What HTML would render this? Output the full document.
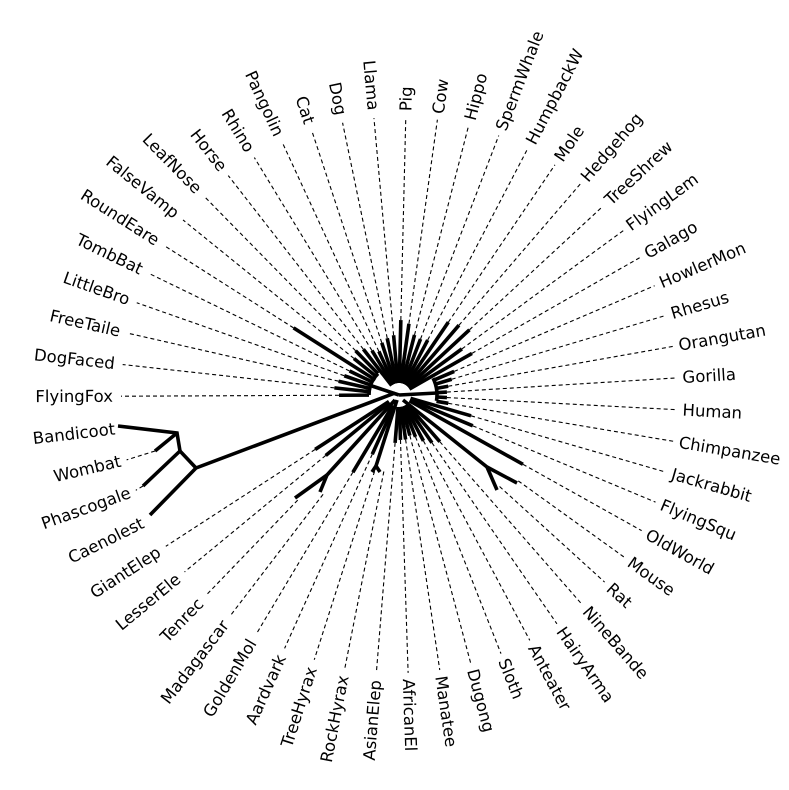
<!DOCTYPE html>
<html><head><meta charset="utf-8"><style>
html,body{margin:0;padding:0;background:#fff;}
svg{display:block;}
text{font-family:"DejaVu Sans","Liberation Sans",sans-serif;font-size:16.5px;fill:#000;dominant-baseline:central;}
.b{stroke:#000;stroke-width:3.6;stroke-linecap:butt;fill:none;}
.d{stroke:#000;stroke-width:1.1;stroke-dasharray:4 3;fill:none;}
.e{text-anchor:end;}
</style></head><body>
<svg width="789" height="790" viewBox="0 0 789 790" xmlns="http://www.w3.org/2000/svg">
<!-- internal connectors -->
<path class="b" d="M378,373.6 A30,30 0 0 0 369,395"/>
<line class="b" x1="399" y1="395" x2="372" y2="386"/>
<path class="b" d="M433.1,378.2 A38,38 0 0 1 436.5,400.9"/>
<line class="b" x1="399" y1="395" x2="437" y2="393"/>
<line class="b" x1="403" y1="400" x2="487" y2="467"/>
<line class="b" x1="487" y1="467" x2="517" y2="483"/>
<line class="b" x1="487" y1="467" x2="497" y2="490"/>
<line class="b" x1="397" y1="400" x2="376" y2="466"/>
<line class="b" x1="376" y1="466" x2="372" y2="472"/>
<line class="b" x1="376" y1="466" x2="380" y2="472"/>
<line class="b" x1="395" y1="400" x2="327" y2="475"/>
<line class="b" x1="327" y1="475" x2="295" y2="498"/>
<line class="b" x1="327" y1="475" x2="320" y2="492"/>
<!-- marsupials -->
<polyline class="b" points="395,393 196,468 150,515"/>
<polyline class="b" points="196,468 180,451 143,486"/>
<polyline class="b" points="180,451 177,433 118,426"/>
<line class="b" x1="177" y1="433" x2="155" y2="451"/>
<line class="d" x1="155" y1="451" x2="126.6" y2="459.9"/>
<line class="d" x1="143" y1="486" x2="135.8" y2="490.3"/>
<g transform="translate(399,395)">
<g transform="rotate(-88.6)"><line class="b" x1="12" y1="0" x2="75" y2="0"/><line class="d" x1="75" y1="0" x2="278" y2="0"/><text x="284" y="0">Pig</text></g>
<g transform="rotate(-82.06)"><line class="b" x1="12" y1="0" x2="72" y2="0"/><line class="d" x1="72" y1="0" x2="278" y2="0"/><text x="284" y="0">Cow</text></g>
<g transform="rotate(-75.51)"><line class="b" x1="12" y1="0" x2="62" y2="0"/><line class="d" x1="62" y1="0" x2="278" y2="0"/><text x="284" y="0">Hippo</text></g>
<g transform="rotate(-68.97)"><line class="b" x1="12" y1="0" x2="60" y2="0"/><line class="d" x1="60" y1="0" x2="278" y2="0"/><text x="284" y="0">SpermWhale</text></g>
<g transform="rotate(-62.42)"><line class="b" x1="12" y1="0" x2="62" y2="0"/><line class="d" x1="62" y1="0" x2="278" y2="0"/><text x="284" y="0">HumpbackW</text></g>
<g transform="rotate(-55.88)"><line class="b" x1="12" y1="0" x2="88" y2="0"/><line class="d" x1="88" y1="0" x2="278" y2="0"/><text x="284" y="0">Mole</text></g>
<g transform="rotate(-49.33)"><line class="b" x1="12" y1="0" x2="92" y2="0"/><line class="d" x1="92" y1="0" x2="278" y2="0"/><text x="284" y="0">Hedgehog</text></g>
<g transform="rotate(-42.79)"><line class="b" x1="12" y1="0" x2="96" y2="0"/><line class="d" x1="96" y1="0" x2="278" y2="0"/><text x="284" y="0">TreeShrew</text></g>
<g transform="rotate(-36.24)"><line class="b" x1="12" y1="0" x2="78" y2="0"/><line class="d" x1="78" y1="0" x2="278" y2="0"/><text x="284" y="0">FlyingLem</text></g>
<g transform="rotate(-29.70)"><line class="b" x1="12" y1="0" x2="84" y2="0"/><line class="d" x1="84" y1="0" x2="278" y2="0"/><text x="284" y="0">Galago</text></g>
<g transform="rotate(-23.15)"><line class="b" x1="38" y1="0" x2="60" y2="0"/><line class="d" x1="60" y1="0" x2="278" y2="0"/><text x="284" y="0">HowlerMon</text></g>
<g transform="rotate(-16.61)"><line class="b" x1="38" y1="0" x2="55" y2="0"/><line class="d" x1="55" y1="0" x2="278" y2="0"/><text x="284" y="0">Rhesus</text></g>
<g transform="rotate(-10.06)"><line class="b" x1="38" y1="0" x2="50" y2="0"/><line class="d" x1="50" y1="0" x2="278" y2="0"/><text x="284" y="0">Orangutan</text></g>
<g transform="rotate(-3.52)"><line class="b" x1="38" y1="0" x2="48" y2="0"/><line class="d" x1="48" y1="0" x2="278" y2="0"/><text x="284" y="0">Gorilla</text></g>
<g transform="rotate(3.03)"><line class="b" x1="38" y1="0" x2="48" y2="0"/><line class="d" x1="48" y1="0" x2="278" y2="0"/><text x="284" y="0">Human</text></g>
<g transform="rotate(9.58)"><line class="b" x1="38" y1="0" x2="50" y2="0"/><line class="d" x1="50" y1="0" x2="278" y2="0"/><text x="284" y="0">Chimpanzee</text></g>
<g transform="rotate(16.12)"><line class="b" x1="12" y1="0" x2="75" y2="0"/><line class="d" x1="75" y1="0" x2="278" y2="0"/><text x="284" y="0">Jackrabbit</text></g>
<g transform="rotate(22.67)"><line class="b" x1="12" y1="0" x2="80" y2="0"/><line class="d" x1="80" y1="0" x2="278" y2="0"/><text x="284" y="0">FlyingSqu</text></g>
<g transform="rotate(29.21)"><line class="b" x1="12" y1="0" x2="142" y2="0"/><line class="d" x1="142" y1="0" x2="278" y2="0"/><text x="284" y="0">OldWorld</text></g>
<g transform="rotate(35.76)"><line class="d" x1="147" y1="0" x2="278" y2="0"/><text x="284" y="0">Mouse</text></g>
<g transform="rotate(42.30)"><line class="d" x1="136" y1="0" x2="278" y2="0"/><text x="284" y="0">Rat</text></g>
<g transform="rotate(48.85)"><line class="b" x1="12" y1="0" x2="62" y2="0"/><line class="d" x1="62" y1="0" x2="278" y2="0"/><text x="284" y="0">NineBande</text></g>
<g transform="rotate(55.39)"><line class="b" x1="12" y1="0" x2="58" y2="0"/><line class="d" x1="58" y1="0" x2="278" y2="0"/><text x="284" y="0">HairyArma</text></g>
<g transform="rotate(61.94)"><line class="b" x1="12" y1="0" x2="52" y2="0"/><line class="d" x1="52" y1="0" x2="278" y2="0"/><text x="284" y="0">Anteater</text></g>
<g transform="rotate(68.48)"><line class="b" x1="12" y1="0" x2="45" y2="0"/><line class="d" x1="45" y1="0" x2="278" y2="0"/><text x="284" y="0">Sloth</text></g>
<g transform="rotate(75.03)"><line class="b" x1="12" y1="0" x2="42" y2="0"/><line class="d" x1="42" y1="0" x2="278" y2="0"/><text x="284" y="0">Dugong</text></g>
<g transform="rotate(81.57)"><line class="b" x1="12" y1="0" x2="45" y2="0"/><line class="d" x1="45" y1="0" x2="278" y2="0"/><text x="284" y="0">Manatee</text></g>
<g transform="rotate(88.12)"><line class="b" x1="12" y1="0" x2="45" y2="0"/><line class="d" x1="45" y1="0" x2="278" y2="0"/><text x="284" y="0">AfricanEl</text></g>
<g transform="rotate(274.66)"><line class="b" x1="-12" y1="0" x2="-48" y2="0"/><line class="d" x1="-48" y1="0" x2="-278" y2="0"/><text class="e" x="-286" y="0">AsianElep</text></g>
<g transform="rotate(281.21)"><line class="d" x1="-78" y1="0" x2="-278" y2="0"/><text class="e" x="-286" y="0">RockHyrax</text></g>
<g transform="rotate(287.75)"><line class="d" x1="-80" y1="0" x2="-278" y2="0"/><text class="e" x="-286" y="0">TreeHyrax</text></g>
<g transform="rotate(294.30)"><line class="b" x1="-12" y1="0" x2="-65" y2="0"/><line class="d" x1="-65" y1="0" x2="-278" y2="0"/><text class="e" x="-286" y="0">Aardvark</text></g>
<g transform="rotate(300.84)"><line class="b" x1="-12" y1="0" x2="-90" y2="0"/><line class="d" x1="-90" y1="0" x2="-278" y2="0"/><text class="e" x="-286" y="0">GoldenMol</text></g>
<g transform="rotate(307.39)"><line class="d" x1="-125" y1="0" x2="-278" y2="0"/><text class="e" x="-286" y="0">Madagascar</text></g>
<g transform="rotate(313.93)"><line class="d" x1="-146" y1="0" x2="-278" y2="0"/><text class="e" x="-286" y="0">Tenrec</text></g>
<g transform="rotate(320.48)"><line class="b" x1="-12" y1="0" x2="-95" y2="0"/><line class="d" x1="-95" y1="0" x2="-278" y2="0"/><text class="e" x="-286" y="0">LesserEle</text></g>
<g transform="rotate(327.02)"><line class="b" x1="-12" y1="0" x2="-100" y2="0"/><line class="d" x1="-100" y1="0" x2="-278" y2="0"/><text class="e" x="-286" y="0">GiantElep</text></g>
<g transform="rotate(333.57)"><text class="e" x="-286" y="0">Caenolest</text></g>
<g transform="rotate(340.11)"><text class="e" x="-286" y="0">Phascogale</text></g>
<g transform="rotate(346.66)"><text class="e" x="-286" y="0">Wombat</text></g>
<g transform="rotate(353.20)"><text class="e" x="-286" y="0">Bandicoot</text></g>
<g transform="rotate(359.75)"><line class="b" x1="-30" y1="0" x2="-60" y2="0"/><line class="d" x1="-60" y1="0" x2="-278" y2="0"/><text class="e" x="-286" y="0">FlyingFox</text></g>
<g transform="rotate(366.29)"><line class="b" x1="-30" y1="0" x2="-65" y2="0"/><line class="d" x1="-65" y1="0" x2="-278" y2="0"/><text class="e" x="-286" y="0">DogFaced</text></g>
<g transform="rotate(372.84)"><line class="b" x1="-30" y1="0" x2="-62" y2="0"/><line class="d" x1="-62" y1="0" x2="-278" y2="0"/><text class="e" x="-286" y="0">FreeTaile</text></g>
<g transform="rotate(379.38)"><line class="b" x1="-30" y1="0" x2="-58" y2="0"/><line class="d" x1="-58" y1="0" x2="-278" y2="0"/><text class="e" x="-286" y="0">LittleBro</text></g>
<g transform="rotate(385.93)"><line class="b" x1="-30" y1="0" x2="-55" y2="0"/><line class="d" x1="-55" y1="0" x2="-278" y2="0"/><text class="e" x="-286" y="0">TombBat</text></g>
<g transform="rotate(392.47)"><line class="b" x1="-28" y1="0" x2="-125" y2="0"/><line class="d" x1="-125" y1="0" x2="-278" y2="0"/><text class="e" x="-286" y="0">RoundEare</text></g>
<g transform="rotate(399.02)"><line class="b" x1="-30" y1="0" x2="-58" y2="0"/><line class="d" x1="-58" y1="0" x2="-278" y2="0"/><text class="e" x="-286" y="0">FalseVamp</text></g>
<g transform="rotate(405.56)"><line class="b" x1="-30" y1="0" x2="-62" y2="0"/><line class="d" x1="-62" y1="0" x2="-278" y2="0"/><text class="e" x="-286" y="0">LeafNose</text></g>
<g transform="rotate(412.11)"><line class="b" x1="-12" y1="0" x2="-58" y2="0"/><line class="d" x1="-58" y1="0" x2="-278" y2="0"/><text class="e" x="-286" y="0">Horse</text></g>
<g transform="rotate(418.65)"><line class="b" x1="-12" y1="0" x2="-52" y2="0"/><line class="d" x1="-52" y1="0" x2="-278" y2="0"/><text class="e" x="-286" y="0">Rhino</text></g>
<g transform="rotate(425.20)"><line class="b" x1="-12" y1="0" x2="-48" y2="0"/><line class="d" x1="-48" y1="0" x2="-278" y2="0"/><text class="e" x="-286" y="0">Pangolin</text></g>
<g transform="rotate(431.74)"><line class="b" x1="-12" y1="0" x2="-55" y2="0"/><line class="d" x1="-55" y1="0" x2="-278" y2="0"/><text class="e" x="-286" y="0">Cat</text></g>
<g transform="rotate(438.29)"><line class="b" x1="-12" y1="0" x2="-58" y2="0"/><line class="d" x1="-58" y1="0" x2="-278" y2="0"/><text class="e" x="-286" y="0">Dog</text></g>
<g transform="rotate(444.83)"><line class="b" x1="-12" y1="0" x2="-60" y2="0"/><line class="d" x1="-60" y1="0" x2="-278" y2="0"/><text class="e" x="-286" y="0">Llama</text></g>
</g>
</svg>
</body></html>
